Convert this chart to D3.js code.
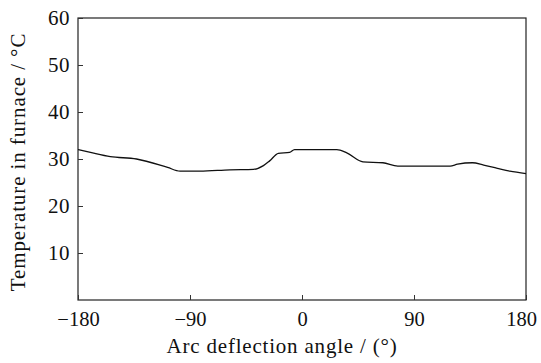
<!DOCTYPE html>
<html>
<head>
<meta charset="utf-8">
<script src="https://cdn.jsdelivr.net/npm/d3@7"></script>
<style>
  body { margin: 0; background: #fff; }
  svg text { font-family: "Liberation Serif", "Times New Roman", serif !important; fill: #111; }
</style>
</head>
<body>
<div id="chart"></div>
<script>
// data
const angles = [-180, -170, -154, -133, -108, -98, -82, -58, -39, -31, -26, -19, -10, -6, 28, 36, 49, 65, 77, 119, 125, 137, 146, 157, 167, 180];
const temps  = [32.0, 31.4, 30.5, 30.0, 28.2, 27.4, 27.4, 27.7, 27.8, 28.6, 29.6, 31.2, 31.4, 32.0, 32.0, 31.3, 29.4, 29.2, 28.5, 28.5, 28.9, 29.2, 28.7, 28.0, 27.4, 26.9];
const xTicks = [-180, -90, 0, 90, 180];
const yTicks = [10, 20, 30, 40, 50, 60];

const width = 541, height = 363;
const margin = {left: 78, right: 15, top: 18, bottom: 63};

const svg = d3.select("#chart").append("svg")
  .attr("width", width)
  .attr("height", height);

const x = d3.scaleLinear().domain([-180, 180]).range([margin.left, width - margin.right]);
const y = d3.scaleLinear().domain([0, 60]).range([height - margin.bottom, margin.top]);

// frame
svg.append("rect")
  .attr("x", x(-180)).attr("y", y(60))
  .attr("width", x(180) - x(-180)).attr("height", y(0) - y(60))
  .attr("fill", "none").attr("stroke", "#222").attr("stroke-width", 1.2);

// x axis, ticks pointing inward
const xAxis = svg.append("g")
  .attr("transform", `translate(0,${y(0)})`)
  .call(d3.axisBottom(x).tickValues(xTicks).tickSizeInner(-5).tickSizeOuter(0).tickPadding(11)
    .tickFormat(d => d < 0 ? "\u2212" + Math.abs(d) : d));
xAxis.select(".domain").remove();
xAxis.selectAll("line").attr("stroke", "#333");
xAxis.selectAll("text").style("font-size", "20.5px")
  .attr("dx", d => d === 180 ? -5 : 0);

// y axis
const yAxis = svg.append("g")
  .attr("transform", `translate(${x(-180)},0)`)
  .call(d3.axisLeft(y).tickValues(yTicks).tickSizeInner(-5).tickSizeOuter(0).tickPadding(8));
yAxis.select(".domain").remove();
yAxis.selectAll("line").attr("stroke", "#333");
yAxis.selectAll("text").style("font-size", "21px").style("letter-spacing", "0.5px");

// curve
const line = d3.line()
  .x((d, i) => x(angles[i]))
  .y(d => y(d))
  .curve(d3.curveMonotoneX);

svg.append("path")
  .datum(temps)
  .attr("d", line)
  .attr("fill", "none")
  .attr("stroke", "#111")
  .attr("stroke-width", 1.3);

// axis titles
svg.append("text")
  .attr("x", (x(-180) + x(180)) / 2 - 20)
  .attr("y", 353)
  .attr("text-anchor", "middle")
  .style("font-size", "21px")
  .style("letter-spacing", "0.8px")
  .text("Arc deflection angle / (\u00b0)");

svg.append("text")
  .attr("transform", `translate(25,${(y(0) + y(60)) / 2 + 3}) rotate(-90)`)
  .attr("text-anchor", "middle")
  .style("font-size", "21px")
  .style("letter-spacing", "0.9px")
  .text("Temperature in furnace / \u00b0C");
</script>
</body>
</html>
